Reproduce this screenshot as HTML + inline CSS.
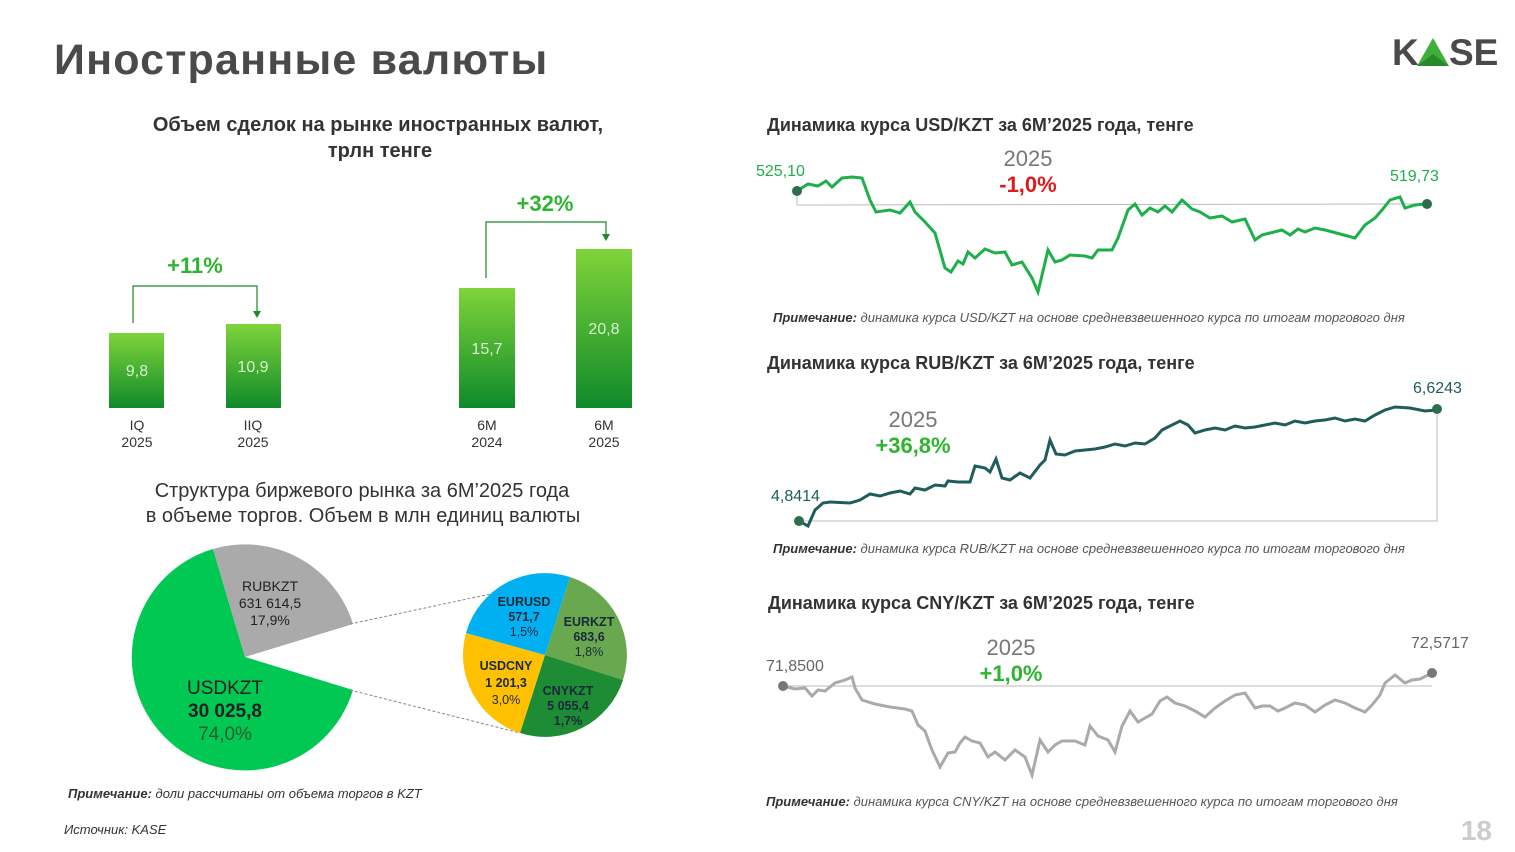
<!DOCTYPE html>
<html><head><meta charset="utf-8"><style>
body{margin:0;width:1515px;height:852px;background:#fff;overflow:hidden;font-family:"Liberation Sans","DejaVu Sans",sans-serif;}
svg{position:absolute;left:0;top:0}
</style></head><body>
<svg width="1515" height="852" viewBox="0 0 1515 852" font-family="Liberation Sans, DejaVu Sans, sans-serif">
<defs>
<linearGradient id="bg" x1="0" y1="0" x2="0" y2="1"><stop offset="0" stop-color="#7fd43a"/><stop offset="1" stop-color="#0f8a2a"/></linearGradient>
</defs>
<text x="54" y="74" font-size="43" font-weight="bold" fill="#4a4a4a" letter-spacing="1.2">Иностранные валюты</text>
<!-- logo -->
<text x="1392" y="65" font-size="37" fill="#4a4a4a" font-weight="bold">K</text>
<polygon points="1417,66 1433,38 1449,66" fill="#3fae3a"/>
<polygon points="1417,66 1433,54 1449,66" fill="#2a8a2a"/>
<text x="1449" y="65" font-size="37" fill="#4a4a4a" font-weight="bold">SE</text>

<text x="378" y="131" font-size="20" font-weight="bold" fill="#333" text-anchor="middle">Объем сделок на рынке иностранных валют,</text>
<text x="380" y="157" font-size="20" font-weight="bold" fill="#333" text-anchor="middle">трлн тенге</text>

<rect x="109" y="333" width="55" height="75" fill="url(#bg)"/>
<rect x="226" y="324" width="55" height="84" fill="url(#bg)"/>
<rect x="459" y="288" width="56" height="120" fill="url(#bg)"/>
<rect x="576" y="249" width="56" height="159" fill="url(#bg)"/>
<g font-size="16" fill="#d8f0d0" text-anchor="middle">
<text x="137" y="376">9,8</text><text x="253" y="372">10,9</text><text x="487" y="354">15,7</text><text x="604" y="334">20,8</text></g>
<g font-size="14" fill="#333" text-anchor="middle">
<text x="137" y="430">IQ</text><text x="137" y="447">2025</text>
<text x="253" y="430">IIQ</text><text x="253" y="447">2025</text>
<text x="487" y="430">6M</text><text x="487" y="447">2024</text>
<text x="604" y="430">6M</text><text x="604" y="447">2025</text></g>
<polyline points="133,323 133,286 257,286 257,312" fill="none" stroke="#1a8a2a" stroke-width="1.2"/>
<polygon points="253,311 261,311 257,318" fill="#1a8a2a"/>
<polyline points="486,278 486,222 606,222 606,235" fill="none" stroke="#1a8a2a" stroke-width="1.2"/>
<polygon points="602,234 610,234 606,241" fill="#1a8a2a"/>
<text x="195" y="273" font-size="22" font-weight="bold" fill="#2db52d" text-anchor="middle">+11%</text>
<text x="545" y="211" font-size="22" font-weight="bold" fill="#2db52d" text-anchor="middle">+32%</text>

<text x="362" y="497" font-size="20" fill="#333" text-anchor="middle">Структура биржевого рынка за 6М’2025 года</text>
<text x="363" y="522" font-size="20" fill="#333" text-anchor="middle">в объеме торгов. Объем в млн единиц валюты</text>

<!-- big pie -->
<path d="M245,657 L353,690 A113,113 0 1 1 213,549 Z" fill="#00c853"/>
<path d="M245,657 L213,549 A113,113 0 0 1 353,624 Z" fill="#aaaaaa"/>
<line x1="350" y1="624" x2="570" y2="577" stroke="#888" stroke-dasharray="3,2" stroke-width="1"/>
<line x1="350" y1="690" x2="520" y2="733" stroke="#888" stroke-dasharray="3,2" stroke-width="1"/>
<g text-anchor="middle" fill="#222">
<text x="270" y="591" font-size="14">RUBKZT</text><text x="270" y="608" font-size="14">631 614,5</text><text x="270" y="625" font-size="14">17,9%</text>
<text x="225" y="694" font-size="19">USDKZT</text><text x="225" y="717" font-size="19" font-weight="bold">30 025,8</text><text x="225" y="740" font-size="19" fill="#2d5a2d">74,0%</text></g>
<!-- small pie -->
<path d="M545,655 L570,577 A82,82 0 0 1 623,680 Z" fill="#6aa84f"/>
<path d="M545,655 L623,680 A82,82 0 0 1 520,733 Z" fill="#1e8c34"/>
<path d="M545,655 L520,733 A82,82 0 0 1 466,633 Z" fill="#ffc000"/>
<path d="M545,655 L466,633 A82,82 0 0 1 570,577 Z" fill="#00b0f0"/>
<g text-anchor="middle" font-size="12.5" font-weight="bold" fill="#1a2a3a">
<text x="524" y="606">EURUSD</text><text x="524" y="621">571,7</text><text x="524" y="636" font-weight="normal">1,5%</text>
<text x="589" y="626">EURKZT</text><text x="589" y="641">683,6</text><text x="589" y="656" font-weight="normal">1,8%</text>
<text x="506" y="670">USDCNY</text><text x="506" y="687">1 201,3</text><text x="506" y="704" font-weight="normal">3,0%</text>
<text x="568" y="695">CNYKZT</text><text x="568" y="710">5 055,4</text><text x="568" y="725">1,7%</text></g>

<text x="68" y="798" font-size="13" font-style="italic" fill="#333"><tspan font-weight="bold">Примечание:</tspan> доли рассчитаны от объема торгов в KZT</text>
<text x="64" y="834" font-size="13" font-style="italic" fill="#333">Источник:  KASE</text>
<text x="1492" y="840" font-size="28" font-weight="bold" fill="#ccc" text-anchor="end">18</text>

<!-- USD chart -->
<text x="767" y="131" font-size="18" font-weight="bold" fill="#333">Динамика курса USD/KZT за 6М’2025 года, тенге</text>
<line x1="797" y1="205" x2="1428" y2="204" stroke="#bbb"/>
<line x1="797" y1="191" x2="797" y2="205" stroke="#bbb"/>
<polyline fill="none" stroke="#1db04a" stroke-width="3" points="797,191 808,184 818,186 826,181 832,187 842,178 852,177 862,178 870,200 876,212 890,210 900,213 910,202 915,212 925,222 935,233 945,268 951,272 958,261 963,264 968,252 975,258 985,249 995,253 1005,252 1012,265 1022,262 1032,278 1038,292 1048,250 1055,262 1062,260 1070,255 1085,256 1092,258 1098,250 1112,250 1118,238 1128,210 1135,204 1142,215 1150,208 1158,212 1165,206 1172,212 1182,200 1192,209 1200,212 1210,218 1222,216 1232,222 1245,219 1255,240 1262,235 1270,233 1282,230 1290,235 1298,229 1305,232 1315,228 1325,230 1340,234 1355,238 1365,225 1375,218 1382,210 1390,200 1400,197 1405,208 1415,205 1425,204"/>
<circle cx="797" cy="191" r="5" fill="#2d6e4e"/><circle cx="1427" cy="204" r="5" fill="#2d6e4e"/>
<text x="756" y="176" font-size="16" fill="#1db04a">525,10</text>
<text x="1390" y="181" font-size="16" fill="#1db04a">519,73</text>
<text x="1028" y="166" font-size="22" fill="#777" text-anchor="middle">2025</text>
<text x="1028" y="192" font-size="22" font-weight="bold" fill="#e0191e" text-anchor="middle">-1,0%</text>
<text x="773" y="322" font-size="13" font-style="italic" fill="#555"><tspan font-weight="bold" fill="#333">Примечание:</tspan> динамика курса USD/KZT на основе средневзвешенного курса  по итогам торгового дня</text>

<!-- RUB chart -->
<text x="767" y="369" font-size="18" font-weight="bold" fill="#333">Динамика курса RUB/KZT за 6М’2025 года, тенге</text>
<polyline fill="none" stroke="#bbb" points="799,521 1437,521 1437,409"/>
<polyline fill="none" stroke="#1f5c5c" stroke-width="3" points="799,521 808,526 815,510 823,503 830,502 850,503 860,500 870,494 880,496 890,493 900,491 910,494 915,488 925,490 935,485 945,486 948,481 958,482 970,482 975,466 985,468 990,472 996,459 1002,478 1010,480 1020,473 1030,478 1040,465 1045,460 1050,440 1056,454 1065,455 1075,451 1085,450 1095,449 1105,447 1115,444 1125,446 1135,443 1145,444 1155,438 1162,430 1170,426 1180,421 1188,425 1195,433 1205,430 1215,428 1225,430 1235,426 1245,428 1255,427 1265,425 1275,423 1285,425 1295,421 1305,423 1315,421 1325,420 1335,418 1345,421 1355,419 1365,421 1375,415 1385,410 1395,407 1410,408 1425,411 1437,410"/>
<circle cx="799" cy="521" r="5" fill="#2d6e4e"/><circle cx="1437" cy="409" r="5" fill="#2d6e4e"/>
<text x="771" y="501" font-size="16" fill="#1f5c5c">4,8414</text>
<text x="1413" y="393" font-size="16" fill="#1f5c5c">6,6243</text>
<text x="913" y="427" font-size="22" fill="#777" text-anchor="middle">2025</text>
<text x="913" y="453" font-size="22" font-weight="bold" fill="#2db52d" text-anchor="middle">+36,8%</text>
<text x="773" y="553" font-size="13" font-style="italic" fill="#555"><tspan font-weight="bold" fill="#333">Примечание:</tspan> динамика курса RUB/KZT на основе средневзвешенного курса  по итогам торгового дня</text>

<!-- CNY chart -->
<text x="768" y="609" font-size="18" font-weight="bold" fill="#333">Динамика курса CNY/KZT за 6М’2025 года, тенге</text>
<line x1="783" y1="686" x2="1432" y2="686" stroke="#bbb"/>
<polyline fill="none" stroke="#aaa" stroke-width="3" points="783,686 795,689 805,688 812,696 818,690 825,691 835,683 845,680 852,677 855,688 862,700 875,704 890,707 905,709 912,711 918,725 925,731 932,750 940,767 948,753 955,752 960,743 965,737 972,741 980,743 988,757 995,752 1005,760 1015,750 1025,757 1032,775 1040,740 1048,752 1055,745 1062,741 1075,741 1085,745 1090,726 1098,736 1108,740 1115,752 1122,726 1130,711 1138,722 1145,718 1152,714 1160,701 1167,697 1175,703 1185,706 1195,711 1205,717 1215,708 1225,701 1235,695 1245,693 1255,708 1262,706 1270,706 1278,711 1285,708 1295,703 1305,705 1315,712 1325,705 1335,700 1345,703 1355,708 1365,712 1372,705 1380,695 1385,683 1395,675 1405,683 1412,680 1420,679 1432,673"/>
<circle cx="783" cy="686" r="5" fill="#777"/><circle cx="1432" cy="673" r="5" fill="#777"/>
<text x="766" y="671" font-size="16" fill="#666">71,8500</text>
<text x="1411" y="648" font-size="16" fill="#666">72,5717</text>
<text x="1011" y="655" font-size="22" fill="#777" text-anchor="middle">2025</text>
<text x="1011" y="681" font-size="22" font-weight="bold" fill="#2db52d" text-anchor="middle">+1,0%</text>
<text x="766" y="806" font-size="13" font-style="italic" fill="#555"><tspan font-weight="bold" fill="#333">Примечание:</tspan> динамика курса CNY/KZT на основе средневзвешенного курса  по итогам торгового дня</text>
</svg>
</body></html>
